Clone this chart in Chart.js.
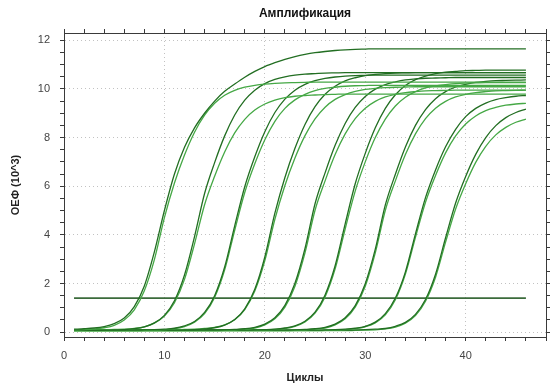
<!DOCTYPE html>
<html>
<head>
<meta charset="utf-8">
<script src="https://cdn.jsdelivr.net/npm/chart.js@4.4.1/dist/chart.umd.min.js"></script>
<style>
  html, body { margin: 0; padding: 0; background: #fff; }
  #wrap { width: 554px; height: 388px; }
</style>
</head>
<body>
<div id="wrap"><canvas id="ampChart" width="554" height="388"></canvas></div>
<script>
// ── Data ─────────────────────────────────────────────────────
const cycles = [1,2,3,4,5,6,7,8,9,10,11,12,13,14,15,16,17,18,19,20,21,22,23,24,25,26,27,28,29,30,31,32,33,34,35,36,37,38,39,40,41,42,43,44,45,46];

const g1a = [0.12,0.14,0.17,0.23,0.35,0.58,1.05,1.90,3.30,5.00,6.50,7.60,8.40,9.00,9.50,9.90,10.20,10.48,10.72,10.92,11.08,11.22,11.33,11.42,11.49,11.54,11.58,11.61,11.63,11.64,11.65,11.65,11.65,11.65,11.65,11.65,11.65,11.65,11.65,11.65,11.65,11.65,11.65,11.65,11.65,11.65];
const g1b = [0.09,0.10,0.13,0.18,0.28,0.50,0.92,1.70,2.98,4.71,6.13,7.28,8.22,8.92,9.41,9.74,9.94,10.07,10.15,10.20,10.23,10.25,10.26,10.27,10.28,10.28,10.28,10.28,10.28,10.28,10.28,10.28,10.28,10.28,10.28,10.28,10.28,10.28,10.28,10.28,10.28,10.28,10.28,10.28,10.28,10.28];
const g2a = [0.07,0.07,0.07,0.08,0.09,0.10,0.14,0.22,0.38,0.69,1.29,2.35,3.93,5.70,6.97,8.07,8.93,9.54,9.95,10.22,10.39,10.50,10.57,10.61,10.63,10.65,10.66,10.67,10.67,10.67,10.67,10.67,10.67,10.67,10.67,10.67,10.67,10.67,10.67,10.67,10.67,10.67,10.67,10.67,10.67,10.67];
const g2b = [0.09,0.09,0.09,0.10,0.11,0.12,0.15,0.22,0.37,0.66,1.21,2.17,3.63,5.24,6.41,7.41,8.19,8.75,9.13,9.38,9.54,9.64,9.70,9.73,9.75,9.77,9.78,9.79,9.79,9.79,9.79,9.79,9.79,9.79,9.79,9.79,9.79,9.79,9.79,9.79,9.79,9.79,9.79,9.79,9.79,9.79];
const g3a = [0.08,0.08,0.08,0.08,0.08,0.08,0.08,0.09,0.10,0.12,0.16,0.26,0.44,0.81,1.50,2.68,4.37,5.98,7.21,8.24,9.03,9.58,9.95,10.19,10.34,10.43,10.49,10.53,10.55,10.56,10.57,10.57,10.57,10.57,10.57,10.57,10.57,10.57,10.57,10.57,10.57,10.57,10.57,10.57,10.57,10.57];
const g3b = [0.06,0.06,0.06,0.06,0.06,0.06,0.06,0.07,0.08,0.10,0.14,0.23,0.41,0.76,1.43,2.56,4.19,5.74,6.92,7.91,8.67,9.20,9.55,9.78,9.93,10.02,10.07,10.11,10.13,10.14,10.15,10.15,10.15,10.15,10.15,10.15,10.15,10.15,10.15,10.15,10.15,10.15,10.15,10.15,10.15,10.15];
const g4a = [0.08,0.08,0.08,0.08,0.08,0.08,0.08,0.08,0.08,0.08,0.08,0.09,0.10,0.13,0.18,0.29,0.52,0.96,1.76,3.09,4.89,6.36,7.56,8.54,9.27,9.78,10.11,10.33,10.46,10.55,10.60,10.63,10.65,10.66,10.67,10.67,10.67,10.67,10.67,10.67,10.67,10.67,10.67,10.67,10.67,10.67];
const g4b = [0.10,0.10,0.10,0.10,0.10,0.10,0.10,0.10,0.10,0.10,0.10,0.11,0.12,0.15,0.20,0.30,0.51,0.93,1.69,2.94,4.64,6.03,7.16,8.08,8.77,9.25,9.57,9.77,9.90,9.98,10.02,10.05,10.07,10.08,10.09,10.09,10.09,10.09,10.09,10.09,10.09,10.09,10.09,10.09,10.09,10.09];
const g5a = [0.08,0.08,0.08,0.08,0.08,0.08,0.08,0.08,0.08,0.08,0.08,0.08,0.08,0.08,0.08,0.09,0.11,0.14,0.20,0.33,0.59,1.10,2.01,3.44,5.28,6.55,7.68,8.58,9.24,9.69,9.99,10.18,10.29,10.37,10.41,10.44,10.45,10.46,10.47,10.47,10.47,10.47,10.47,10.47,10.47,10.47];
const g5b = [0.06,0.06,0.06,0.06,0.06,0.06,0.06,0.06,0.06,0.06,0.06,0.06,0.06,0.06,0.06,0.07,0.09,0.12,0.17,0.30,0.55,1.03,1.89,3.26,5.01,6.22,7.30,8.15,8.78,9.21,9.49,9.67,9.78,9.85,9.89,9.92,9.93,9.94,9.95,9.95,9.95,9.95,9.95,9.95,9.95,9.95];
const g6a = [0.08,0.08,0.08,0.08,0.08,0.08,0.08,0.08,0.08,0.08,0.08,0.08,0.08,0.08,0.08,0.08,0.08,0.08,0.09,0.10,0.12,0.17,0.26,0.45,0.82,1.53,2.73,4.45,6.10,7.35,8.40,9.20,9.76,10.14,10.38,10.53,10.63,10.69,10.72,10.75,10.76,10.77,10.77,10.77,10.77,10.77];
const g6b = [0.07,0.07,0.07,0.07,0.07,0.07,0.07,0.07,0.07,0.07,0.07,0.07,0.07,0.07,0.07,0.07,0.07,0.07,0.08,0.09,0.11,0.15,0.24,0.42,0.78,1.45,2.60,4.24,5.80,7.00,8.00,8.76,9.30,9.66,9.89,10.04,10.13,10.18,10.22,10.24,10.25,10.26,10.26,10.26,10.26,10.26];
const g7a = [0.08,0.08,0.08,0.08,0.08,0.08,0.08,0.08,0.08,0.08,0.08,0.08,0.08,0.08,0.08,0.08,0.08,0.08,0.08,0.08,0.08,0.08,0.09,0.11,0.14,0.20,0.33,0.59,1.09,1.99,3.41,5.23,6.49,7.61,8.50,9.15,9.60,9.89,10.08,10.19,10.27,10.31,10.34,10.35,10.36,10.37];
const g7b = [0.06,0.06,0.06,0.06,0.06,0.06,0.06,0.06,0.06,0.06,0.06,0.06,0.06,0.06,0.06,0.06,0.06,0.06,0.06,0.06,0.06,0.06,0.07,0.09,0.12,0.17,0.30,0.55,1.03,1.89,3.26,5.01,6.22,7.30,8.15,8.78,9.21,9.49,9.67,9.78,9.85,9.89,9.92,9.93,9.94,9.95];
const g8a = [0.08,0.08,0.08,0.08,0.08,0.08,0.08,0.08,0.08,0.08,0.08,0.08,0.08,0.08,0.08,0.08,0.08,0.08,0.08,0.08,0.08,0.08,0.08,0.08,0.08,0.09,0.10,0.12,0.16,0.24,0.41,0.76,1.40,2.48,4.04,5.53,6.67,7.62,8.34,8.86,9.20,9.42,9.56,9.64,9.70,9.73];
const g8b = [0.06,0.06,0.06,0.06,0.06,0.06,0.06,0.06,0.06,0.06,0.06,0.06,0.06,0.06,0.06,0.06,0.06,0.06,0.06,0.06,0.06,0.06,0.06,0.06,0.06,0.07,0.08,0.10,0.14,0.22,0.38,0.71,1.33,2.39,3.90,5.34,6.44,7.37,8.07,8.56,8.89,9.11,9.24,9.33,9.38,9.41];
const g9a = [0.08,0.08,0.08,0.08,0.08,0.08,0.08,0.08,0.08,0.08,0.08,0.08,0.08,0.08,0.08,0.08,0.08,0.08,0.08,0.08,0.08,0.08,0.08,0.08,0.08,0.08,0.08,0.08,0.09,0.10,0.12,0.15,0.24,0.40,0.73,1.34,2.38,3.88,5.31,6.40,7.31,8.00,8.49,8.82,9.03,9.17];
const g9b = [0.06,0.06,0.06,0.06,0.06,0.06,0.06,0.06,0.06,0.06,0.06,0.06,0.06,0.06,0.06,0.06,0.06,0.06,0.06,0.06,0.06,0.06,0.06,0.06,0.06,0.06,0.06,0.06,0.07,0.08,0.09,0.13,0.21,0.37,0.68,1.27,2.26,3.70,5.06,6.10,6.98,7.64,8.11,8.42,8.63,8.76];

// threshold line
const thresholdValue = 1.4;
const thresholdCycles = [1, 46];

// axes
const xTickValues = [0,2,4,6,8,10,12,14,16,18,20,22,24,26,28,30,32,34,36,38,40,42,44,46,48];
const xLabelValues = [0,10,20,30,40];
const yTickValues = [0,0.5,1,1.5,2,2.5,3,3.5,4,4.5,5,5.5,6,6.5,7,7.5,8,8.5,9,9.5,10,10.5,11,11.5,12];
const yLabelValues = [0,2,4,6,8,10,12];

const curves = [g1a,g1b,g2a,g2b,g3a,g3b,g4a,g4b,g5a,g5b,g6a,g6b,g7a,g7b,g8a,g8b,g9a,g9b];
curves.forEach((c, i) => {
  if (c.length !== cycles.length) throw new Error('curve ' + i + ' has ' + c.length + ' values');
});

// ── Chart ─────────────────────────────────────────────────────
Chart.defaults.font.family = '"Liberation Sans", Arial, sans-serif';
Chart.defaults.color = '#333';

const AXIS = '#3a3a3a';
const GRID = '#c2c2c2';
const NONE = 'rgba(0,0,0,0)';

const datasets = curves.map((vals, i) => ({
  data: cycles.map((c, j) => ({ x: c, y: vals[j] })),
  borderColor: i % 2 === 0 ? '#226e22' : '#45a845',
  borderWidth: 1.3,
  pointRadius: 0,
  fill: false,
  cubicInterpolationMode: 'monotone',
}));

datasets.push({
  data: thresholdCycles.map(c => ({ x: c, y: thresholdValue })),
  borderColor: '#3b6b3b',
  borderWidth: 1.6,
  pointRadius: 0,
  fill: false,
});

const tickFont = { size: 11 };

new Chart(document.getElementById('ampChart').getContext('2d'), {
  type: 'line',
  data: { datasets },
  options: {
    responsive: false,
    animation: false,
    devicePixelRatio: 1,
    layout: { padding: 0 },
    plugins: {
      legend: { display: false },
      tooltip: { enabled: false },
      title: {
        display: true,
        text: 'Амплификация',
        fullSize: false,
        color: '#111',
        font: { size: 12, weight: 'bold' },
        padding: { top: 6, bottom: 4 },
      },
    },
    scales: {
      x: {
        type: 'linear',
        position: 'bottom',
        min: 0,
        max: 48,
        afterBuildTicks: s => { s.ticks = xTickValues.map(v => ({ value: v })); },
        afterFit: s => { s.height = 51; },
        ticks: {
          autoSkip: false,
          maxRotation: 0,
          padding: 8,
          font: tickFont,
          color: '#444',
          callback: v => (xLabelValues.includes(v) ? String(v) : ''),
        },
        grid: {
          color: ctx => (ctx.tick && ctx.tick.value !== 0 && xLabelValues.includes(ctx.tick.value) ? GRID : NONE),
          tickColor: AXIS,
          tickLength: 4,
        },
        border: { color: AXIS, width: 1, dash: [1, 3] },
        title: {
          display: true,
          text: 'Циклы',
          color: '#222',
          font: { size: 11, weight: 'bold' },
          padding: { top: 0, bottom: 3 },
        },
      },
      x2: {
        type: 'linear',
        position: 'top',
        min: 0,
        max: 48,
        afterBuildTicks: s => { s.ticks = xTickValues.map(v => ({ value: v })); },
        afterFit: s => { s.height = 8.6; },
        ticks: { display: false, autoSkip: false },
        grid: { drawOnChartArea: false, tickColor: AXIS, tickLength: 4 },
        border: { color: AXIS, width: 1 },
      },
      y: {
        type: 'linear',
        position: 'left',
        min: -0.2,
        max: 12.3,
        afterBuildTicks: s => { s.ticks = yTickValues.map(v => ({ value: v })); },
        afterFit: s => { s.width = 64; },
        ticks: {
          autoSkip: false,
          padding: 10,
          font: tickFont,
          color: '#444',
          callback: v => (yLabelValues.includes(v) ? String(v) : ''),
        },
        grid: {
          color: ctx => (ctx.tick && yLabelValues.includes(ctx.tick.value) ? GRID : NONE),
          tickColor: AXIS,
          tickLength: 4,
        },
        border: { color: AXIS, width: 1, dash: [1, 3] },
        title: {
          display: true,
          text: 'ОЕФ (10^3)',
          color: '#222',
          font: { size: 11, weight: 'bold' },
          padding: { top: 9, bottom: 0 },
        },
      },
      y2: {
        type: 'linear',
        position: 'right',
        min: -0.2,
        max: 12.3,
        afterBuildTicks: s => { s.ticks = yTickValues.map(v => ({ value: v })); },
        afterFit: s => { s.width = 4; },
        ticks: { display: false, autoSkip: false },
        grid: { drawOnChartArea: false, tickColor: AXIS, tickLength: 4 },
        border: { color: AXIS, width: 1 },
      },
    },
  },
});
</script>
</body>
</html>
